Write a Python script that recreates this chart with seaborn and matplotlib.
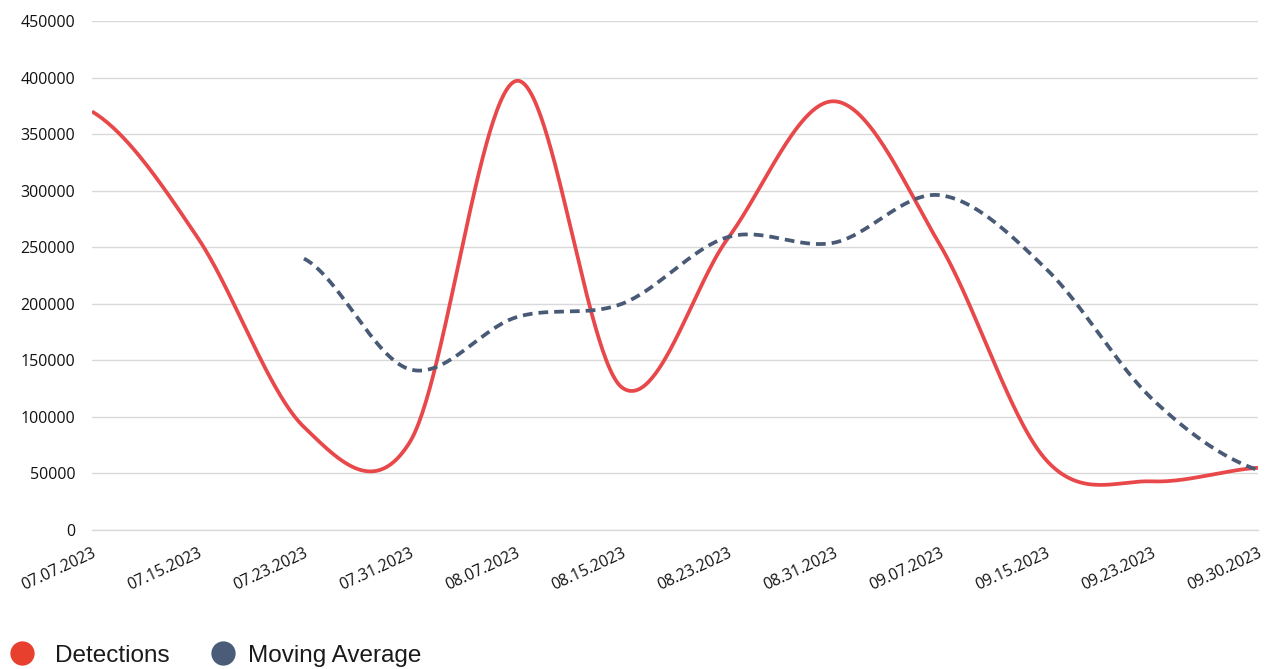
import numpy as np
import pandas as pd
import matplotlib
matplotlib.use("Agg")
import matplotlib.pyplot as plt
import seaborn as sns
from matplotlib.lines import Line2D

# Weekly detection counts and their 3-period moving average
dates = ["07.07.2023", "07.15.2023", "07.23.2023", "07.31.2023", "08.07.2023",
         "08.15.2023", "08.23.2023", "08.31.2023", "09.07.2023", "09.15.2023",
         "09.23.2023", "09.30.2023"]
detections = [370000, 258000, 91000, 78000, 397000, 126000,
              258000, 379000, 252000, 62000, 43000, 55000]
moving_avg = [np.nan, np.nan, 240000, 142000, 188000, 200000,
              259000, 254000, 296000, 231000, 116000, 53000]
y_ticks = [0, 50000, 100000, 150000, 200000, 250000, 300000, 350000, 400000, 450000]

RED = "#E8484A"
SLATE = "#485A75"
GRID = "#D9D9D9"


def smooth_curve(values, steps=60):
    """Catmull-Rom curve through the points (category index on x)."""
    vals = np.asarray(values, float)
    idx = np.where(~np.isnan(vals))[0]
    p = vals[idx]
    x = idx.astype(float)
    n = len(p)
    m = np.zeros(n)
    for i in range(n):
        lo = p[max(i - 1, 0)]
        hi = p[min(i + 1, n - 1)]
        m[i] = (hi - lo) / 2.0
    xs, ys = [], []
    for i in range(n - 1):
        t = np.linspace(0, 1, steps, endpoint=(i == n - 2))
        h00 = 2 * t**3 - 3 * t**2 + 1
        h10 = t**3 - 2 * t**2 + t
        h01 = -2 * t**3 + 3 * t**2
        h11 = t**3 - t**2
        ys.append(h00 * p[i] + h10 * m[i] + h01 * p[i + 1] + h11 * m[i + 1])
        xs.append(x[i] + t * (x[i + 1] - x[i]))
    return pd.DataFrame({"x": np.concatenate(xs), "y": np.concatenate(ys)})


sns.set_theme(style="white")
plt.rcParams["font.family"] = ["Open Sans", "DejaVu Sans"]

fig = plt.figure(figsize=(12.69, 6.69), dpi=100)
ax = fig.add_axes([92 / 1269, 1 - 530 / 669, (1258 - 92) / 1269, (530 - 21) / 669])

det_df = smooth_curve(detections)
ma_df = smooth_curve(moving_avg)

sns.lineplot(data=det_df, x="x", y="y", ax=ax, color=RED, linewidth=2.7,
             estimator=None, sort=False, solid_capstyle="butt")
sns.lineplot(data=ma_df, x="x", y="y", ax=ax, color=SLATE, linewidth=2.7,
             estimator=None, sort=False, dashes=False)
ax.lines[-1].set_dashes((2.6, 1.6))
ax.lines[-1].set_dash_capstyle("butt")

ax.set_xlim(0, len(dates) - 1)
ax.set_ylim(0, 450000)
ax.set_xlabel("")
ax.set_ylabel("")

ax.set_yticks(y_ticks)
ax.set_yticklabels([str(v) for v in y_ticks], fontsize=11.5, color="#111111")
ax.tick_params(axis="y", length=0, pad=12)

ax.set_xticks(range(len(dates)))
ax.set_xticklabels(dates, rotation=25, ha="right", va="top",
                   rotation_mode="anchor", fontsize=11.3, color="#111111")
ax.tick_params(axis="x", which="major", length=0, pad=11)
ax.set_xticks([0, 3.5, 7, 10.5], minor=True)
ax.tick_params(axis="x", which="minor", length=6, width=1, color=GRID)

ax.yaxis.grid(True, color=GRID, linewidth=1)
ax.xaxis.grid(False)
for side in ("top", "right", "left"):
    ax.spines[side].set_visible(False)
ax.spines["bottom"].set_color(GRID)
ax.spines["bottom"].set_linewidth(1)
ax.set_axisbelow(True)

# Legend entries: one legend per series so each can sit at its own spot
legend_items = [
    ("Detections", "#E8402F", -0.006, 0.86),
    ("Moving Average", "#4A5C78", 0.1529, 0.53),
]
for label, color, x_anchor, text_pad in legend_items:
    handle = Line2D([], [], linestyle="none", marker="o", markersize=17.5,
                    markerfacecolor=color, markeredgecolor="none", label=label)
    leg = fig.legend(handles=[handle], loc="lower left",
                     bbox_to_anchor=(x_anchor, -0.022), frameon=False,
                     handletextpad=text_pad, handlelength=1.0, borderaxespad=0.3,
                     prop={"family": "Liberation Sans", "size": 17.5},
                     labelcolor="#1a1a1a")

fig.savefig("out.png", dpi=100, facecolor="white")
